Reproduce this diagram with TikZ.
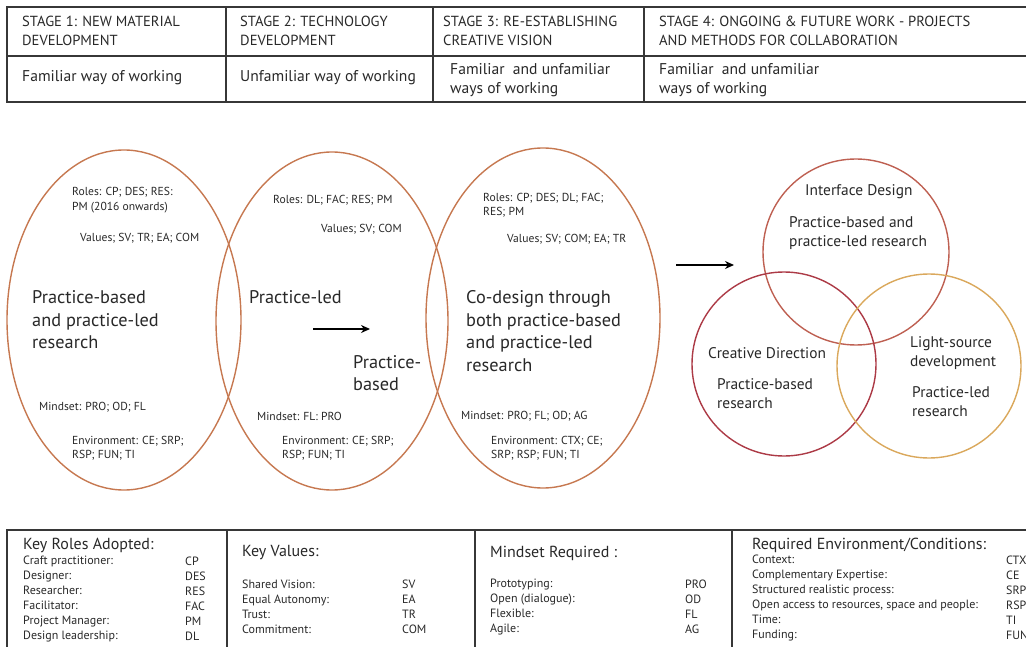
\documentclass[tikz,border=0pt]{standalone}
\usepackage{fontspec}
\setmainfont{PT Sans}
\usetikzlibrary{arrows.meta}
\definecolor{textgray}{RGB}{40,40,40}
\definecolor{tblgray}{RGB}{55,55,55}
\definecolor{ringbrown}{RGB}{198,120,80}
\definecolor{ifred}{RGB}{190,96,82}
\definecolor{cdred}{RGB}{172,58,70}
\definecolor{lsgold}{RGB}{218,168,92}
\begin{document}
\begin{tikzpicture}[x=1pt, y=-1pt,
    txt/.style={anchor=west, inner sep=0pt, align=left, text=textgray},
    stagehead/.style={txt, font=\fontsize{14.6}{19.5}\selectfont},
    stagerow/.style={txt, font=\fontsize{15.6}{19}\selectfont},
    small/.style={txt, font=\fontsize{11.6}{14.5}\selectfont},
    big/.style={txt, font=\fontsize{18.3}{22.5}\selectfont},
    circtxt/.style={txt, font=\fontsize{15.4}{19}\selectfont},
    keyhead/.style={txt, font=\fontsize{16}{16}\selectfont},
    keylist/.style={txt, font=\fontsize{12}{15}\selectfont},
    tbl/.style={line width=1.3pt, tblgray},
    ring/.style={line width=1.4pt, ringbrown},
    arr/.style={line width=1.4pt, -{Stealth[length=9pt,width=8pt]}}]
    \useasboundingbox (0,0) rectangle (1026,647);
    \clip (0,0) rectangle (1026,647);

    % stage table
    \draw[tbl] (1040,7) -- (7,7) -- (7,102) -- (1040,102);
    \draw[tbl] (7,56) -- (1040,56);
    \draw[tbl] (226,7) -- (226,102);
    \draw[tbl] (433,7) -- (433,102);
    \draw[tbl] (644,7) -- (644,102);

    \node[stagehead] (s1) at (22,31) {STAGE 1: NEW MATERIAL\\DEVELOPMENT};
    \node[stagehead] (s2) at (240,31) {STAGE 2: TECHNOLOGY\\DEVELOPMENT};
    \node[stagehead] (s3) at (443,31) {STAGE 3: RE-ESTABLISHING\\CREATIVE VISION};
    \node[stagehead] (s4) at (659,31) {STAGE 4: ONGOING \& FUTURE WORK - PROJECTS\\AND METHODS FOR COLLABORATION};

    \node[stagerow] (w1) at (22,78) {Familiar way of working};
    \node[stagerow] (w2) at (240,78) {Unfamiliar way of working};
    \node[stagerow] (w3) at (450,80) {Familiar\ \ and unfamiliar\\ways of working};
    \node[stagerow] (w4) at (659,80) {Familiar\ \ and unfamiliar\\ways of working};

    % three ellipses
    \draw[ring] (124,320) ellipse [x radius=117pt, y radius=170pt];
    \draw[ring] (332,321) ellipse [x radius=116pt, y radius=169pt];
    \draw[ring] (543,318) ellipse [x radius=117pt, y radius=170pt];

    \node[small] (r1) at (72,200) {Roles: CP; DES; RES:\\PM (2016 onwards)};
    \node[small] (v1) at (80,238) {Values; SV; TR; EA; COM};
    \node[big] (t1) at (32,320) {Practice-based\\and practice-led\\research};
    \node[small] (m1) at (39,407) {Mindset: PRO; OD; FL};
    \node[small] (n1) at (72,448) {Environment: CE; SRP;\\RSP; FUN; TI};

    \node[small] (r2) at (273,200) {Roles: DL; FAC; RES; PM};
    \node[small] (v2) at (321,229) {Values; SV; COM};
    \node[big] (t2a) at (249,297) {Practice-led};
    \node[big] (t2b) at (353,373) {Practice-\\based};
    \node[small] (m2) at (257,416) {Mindset: FL: PRO};
    \node[small] (n2) at (282,448) {Environment: CE; SRP;\\RSP; FUN; TI};

    \node[small] (r3) at (483,205) {Roles: CP; DES; DL; FAC;\\RES; PM};
    \node[small] (v3) at (507,239) {Values; SV; COM; EA; TR};
    \node[big] (t3) at (466,331) {Co-design through\\both practice-based\\and practice-led\\research};
    \node[small] (m3) at (461,416) {Mindset: PRO; FL; OD; AG};
    \node[small] (n3) at (491,448) {Environment: CTX; CE;\\SRP; RSP; FUN; TI};

    \coordinate (a1s) at (313,329);
    \coordinate (a1e) at (370,329);
    \draw[arr] (a1s) -- (a1e);
    \coordinate (a2s) at (676,265);
    \coordinate (a2e) at (734,265);
    \draw[arr] (a2s) -- (a2e);

    % stage 4 circles
    \draw[line width=1.4pt, ifred] (856,252) circle [radius=93pt];
    \draw[line width=1.4pt, cdred] (784,364) circle [radius=92pt];
    \draw[line width=1.4pt, lsgold] (929,366) circle [radius=92pt];

    \node[circtxt] (i1) at (805,192) {Interface Design};
    \node[circtxt] (i2) at (789,233) {Practice-based and\\practice-led research};
    \node[circtxt] (c1) at (708,353) {Creative Direction};
    \node[circtxt] (c2) at (717,394) {Practice-based\\research};
    \node[circtxt] (l1) at (910,353) {Light-source\\development};
    \node[circtxt] (l2) at (912,402) {Practice-led\\research};

    % key table
    \draw[tbl] (1040,530) -- (7,530) -- (7,660);
    \draw[tbl] (227,530) -- (227,660);
    \draw[tbl] (475,530) -- (475,660);
    \draw[tbl] (732,530) -- (732,660);

    \node[keyhead] (kr) at (23,545) {Key Roles Adopted:};
    \node[keylist] (krl) at (23,599) {Craft practitioner:\\Designer:\\Researcher:\\Facilitator:\\Project Manager:\\Design leadership:};
    \node[keylist] (kra) at (185,599) {CP\\DES\\RES\\FAC\\PM\\DL};

    \node[keyhead] (kv) at (242,553) {Key Values:};
    \node[keylist] (kvl) at (242,607) {Shared Vision:\\Equal Autonomy:\\Trust:\\Commitment:};
    \node[keylist] (kva) at (402,607) {SV\\EA\\TR\\COM};

    \node[keyhead] (km) at (490,553) {Mindset Required :};
    \node[keylist] (kml) at (490,607) {Prototyping:\\Open (dialogue):\\Flexible:\\Agile:};
    \node[keylist] (kma) at (685,607) {PRO\\OD\\FL\\AG};

    \node[keyhead] (ke) at (752,545) {Required Environment/Conditions:};
    \node[keylist] (kel) at (752,598) {Context:\\Complementary Expertise:\\Structured realistic process:\\Open access to resources, space and people:\\Time:\\Funding:};
    \node[keylist] (kea) at (1006,598) {CTX\\CE\\SRP\\RSP\\TI\\FUN};
\end{tikzpicture}
\end{document}
